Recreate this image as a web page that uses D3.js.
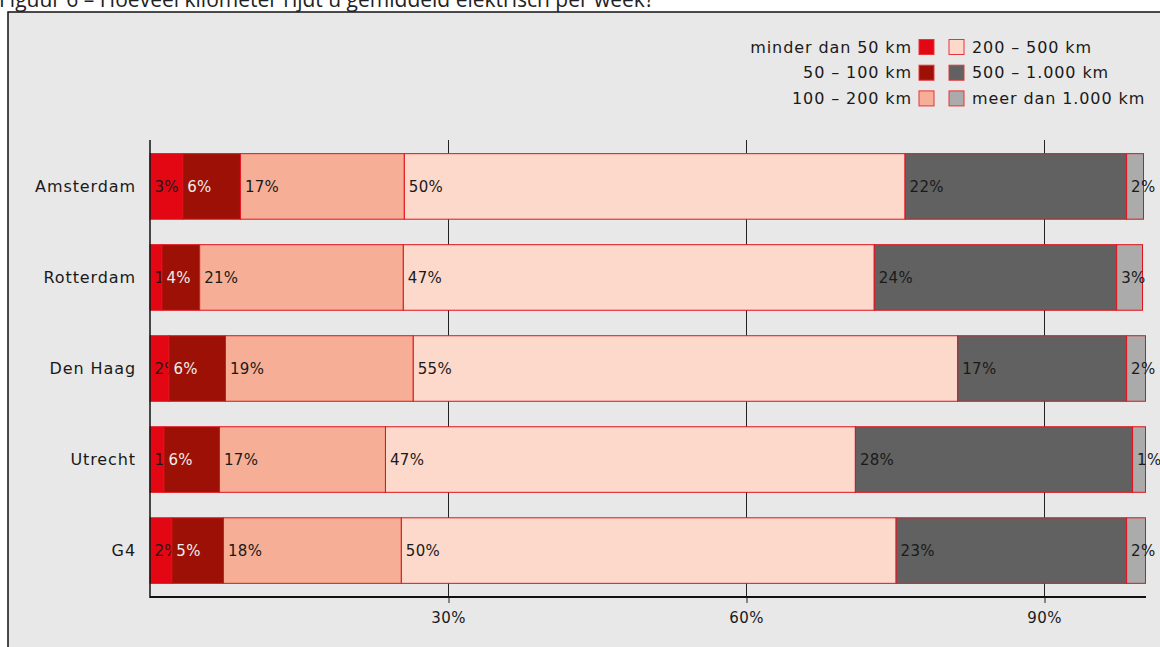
<!DOCTYPE html>
<html>
<head>
<meta charset="utf-8">
<script src="https://cdn.jsdelivr.net/npm/d3@7"></script>
<style>
  body { margin: 0; background: #fff; }
  svg { display: block; font-family: "DejaVu Sans", sans-serif; }
</style>
</head>
<body>
<svg id="chart" width="1160" height="647"></svg>
<script>
// chart data
const cities = ["Amsterdam", "Rotterdam", "Den Haag", "Utrecht", "G4"];
const ranges = [
  "minder dan 50 km",
  "50 – 100 km",
  "100 – 200 km",
  "200 – 500 km",
  "500 – 1.000 km",
  "meer dan 1.000 km",
];
// share per distance range, one array per range (same order as cities)
const under50 = [3.3, 1.2, 1.9, 1.4, 2.2];
const km50to100 = [5.8, 3.8, 5.7, 5.6, 5.2];
const km100to200 = [16.5, 20.5, 18.9, 16.7, 17.9];
const km200to500 = [50.4, 47.4, 54.8, 47.3, 49.8];
const km500to1000 = [22.3, 24.4, 17.0, 27.9, 23.2];
const over1000 = [1.7, 2.6, 1.9, 1.3, 1.9];
const xTicks = [30, 60, 90];

const colors = ["#e30613", "#9c1006", "#f6af96", "#fdd9cc", "#616161", "#ababab"];

const svg = d3.select("#chart");

// frame + title (title sits mostly above the visible area)
svg.append("rect")
  .attr("x", 8).attr("y", 12)
  .attr("width", 1200).attr("height", 700)
  .attr("fill", "#e8e8e8")
  .attr("stroke", "#111")
  .attr("stroke-width", 1.5);

svg.append("text")
  .attr("x", -1).attr("y", 7)
  .attr("font-family", "'Open Sans', sans-serif")
  .attr("font-size", 21)
  .attr("fill", "#222")
  .text("Figuur 6 – Hoeveel kilometer rijdt u gemiddeld elektrisch per week?");

// build rows for the stack
let series = [under50, km50to100, km100to200, km200to500, km500to1000, over1000];
let rows = cities.map(function (c, i) {
  let row = { city: c };
  ranges.forEach(function (r, j) { row[r] = series[j][i]; });
  return row;
});
let stacked = d3.stack().keys(ranges)(rows);

// scales
let xScale = d3.scaleLinear().domain([0, 100]).range([150, 1143.5]);
let yScale = d3.scaleBand().domain(cities).range([140, 597])
  .paddingInner(0.28).paddingOuter(0.15);

/////////////////////////
// grid lines behind bars //
/////////////////////////
svg.append("g")
  .selectAll("line")
  .data(xTicks)
  .enter()
  .append("line")
  .attr("x1", d => Math.round(xScale(d)) + 0.5).attr("x2", d => Math.round(xScale(d)) + 0.5)
  .attr("y1", 140).attr("y2", 597)
  .attr("stroke", "#222")
  .attr("stroke-width", 1);

// x axis
let xAxis = svg.append("g")
  .attr("transform", "translate(0,597)")
  .call(d3.axisBottom(xScale).tickValues(xTicks).tickSize(6).tickFormat(d => d + "%"));
xAxis.select(".domain").remove();
xAxis.selectAll(".tick line")
  .attr("stroke", "#222")
  .attr("transform", d => "translate(" + (Math.round(xScale(d)) + 0.5 - xScale(d)) + ",0)");
xAxis.selectAll(".tick text")
  .attr("font-family", "'DejaVu Sans', sans-serif")
  .attr("font-size", 15)
  .attr("letter-spacing", 0.5)
  .attr("fill", "#1a1a1a")
  .attr("dy", "1.15em");

// bars, one group per segment so later rects cover overflowing labels
let layers = svg.append("g")
  .selectAll("g")
  .data(stacked)
  .enter()
  .append("g");

layers.each(function (layer, k) {
  let g = d3.select(this);
  layer.forEach(function (d) {
    g.append("rect")
      .attr("x", xScale(d[0]))
      .attr("y", yScale(d.data.city))
      .attr("width", xScale(d[1]) - xScale(d[0]))
      .attr("height", yScale.bandwidth())
      .attr("fill", colors[k])
      .attr("stroke", "#e3101c")
      .attr("stroke-width", 1);
    g.append("text")
      .attr("x", xScale(d[0]) + 4.5)
      .attr("y", yScale(d.data.city) + yScale.bandwidth() / 2)
      .attr("dy", "0.36em")
      .attr("font-size", 15)
      .attr("letter-spacing", 0.3)
      .attr("fill", k == 1 ? "#eeeeee" : "#1a1a1a")
      .text(Math.round(d[1] - d[0]) + "%");
  });
});

// axis lines on top
svg.append("line")
  .attr("x1", 150).attr("x2", 1146)
  .attr("y1", 597).attr("y2", 597)
  .attr("stroke", "#111").attr("stroke-width", 2);
svg.append("line")
  .attr("x1", 150).attr("x2", 150)
  .attr("y1", 140).attr("y2", 598)
  .attr("stroke", "#111").attr("stroke-width", 1.5);

// city labels
svg.append("g")
  .selectAll("text")
  .data(cities)
  .enter()
  .append("text")
  .attr("x", 136)
  .attr("y", d => yScale(d) + yScale.bandwidth() / 2)
  .attr("dy", "0.36em")
  .attr("text-anchor", "end")
  .attr("font-size", 16)
  .attr("letter-spacing", 0.9)
  .attr("fill", "#1a1a1a")
  .text(d => d);

/////////////////////////
// legend, two columns //
/////////////////////////
let legend = svg.append("g");
ranges.forEach(function (r, i) {
  let col = i < 3 ? 0 : 1;
  let row = i % 3;
  let cy = 47 + row * 25.7;
  let sx = col == 0 ? 919 : 949;
  legend.append("rect")
    .attr("x", sx).attr("y", cy - 7.5)
    .attr("width", 15).attr("height", 15)
    .attr("fill", colors[i])
    .attr("stroke", "#e8323c")
    .attr("stroke-width", 1);
  legend.append("text")
    .attr("x", col == 0 ? 912 : 972)
    .attr("y", cy)
    .attr("dy", "0.36em")
    .attr("text-anchor", col == 0 ? "end" : "start")
    .attr("font-size", 16)
    .attr("letter-spacing", 0.9)
    .attr("fill", "#1a1a1a")
    .text(r);
});
</script>
</body>
</html>
